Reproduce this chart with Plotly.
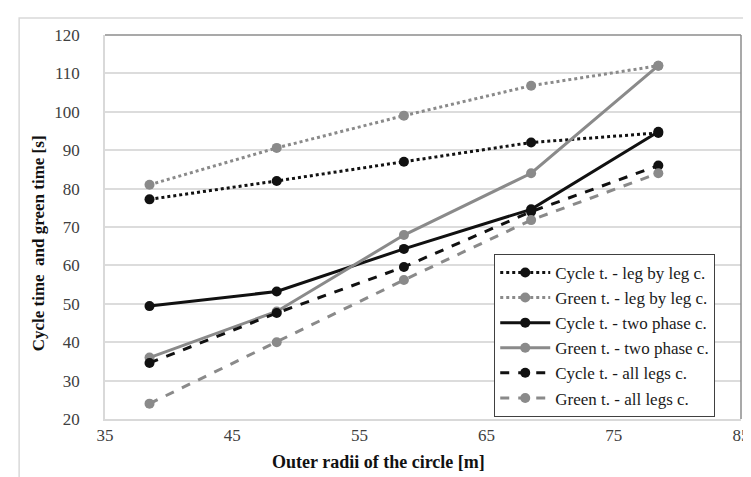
import plotly.graph_objects as go

# outer radii [m]
radii = [38.5, 48.5, 58.5, 68.5, 78.5]

# cycle / green times [s]
cycle_leg_by_leg = [77.2, 82.0, 87.0, 92.0, 94.5]
green_leg_by_leg = [81.0, 90.6, 99.0, 106.8, 112.0]
cycle_two_phase = [49.4, 53.2, 64.3, 74.6, 94.8]
green_two_phase = [36.0, 48.0, 67.9, 84.0, 112.0]
cycle_all_legs = [34.6, 47.6, 59.6, 74.0, 86.0]
green_all_legs = [24.0, 40.0, 56.2, 71.8, 84.0]

BLACK = '#111111'
GREY = '#8a8a8a'
FONT = 'Liberation Serif'

series = [
    ("Cycle t. - leg by leg c.", cycle_leg_by_leg, BLACK, 'dot'),
    ("Green t. - leg by leg c.", green_leg_by_leg, GREY, 'dot'),
    ("Cycle t. - two phase c.", cycle_two_phase, BLACK, 'solid'),
    ("Green t. - two phase c.", green_two_phase, GREY, 'solid'),
    ("Cycle t. - all legs c.", cycle_all_legs, BLACK, 'dash'),
    ("Green t. - all legs c.", green_all_legs, GREY, 'dash'),
]

fig = go.Figure()
for name, vals, color, dash in series:
    fig.add_trace(go.Scatter(
        x=radii, y=vals, name=name,
        mode='lines+markers',
        line=dict(color=color, width=3, dash=dash),
        marker=dict(color=color, size=10)
    ))

fig.update_layout(
    width=751, height=477,
    margin=dict(l=97, r=9, t=27, b=66),
    paper_bgcolor='white',
    plot_bgcolor='white',
    font=dict(family=FONT, size=17, color='#404040'),
    legend=dict(
        x=0.612, y=0.43, xanchor='left', yanchor='top',
        bgcolor='white', bordercolor='#404040', borderwidth=1,
        font=dict(family=FONT, size=17, color='#1a1a1a'),
        tracegroupgap=0, itemwidth=50
    ),
    xaxis=dict(range=[35, 85], dtick=10, tick0=35, showgrid=False,
               showline=True, linecolor='#d9d9d9', linewidth=1.5,
               zeroline=False, ticks='', ticklabelstandoff=0,
               ticklabeloverflow='allow'),
    yaxis=dict(range=[20, 120], dtick=10, showgrid=True, gridcolor='#dcdcdc',
               gridwidth=1.5, showline=True, linecolor='#d9d9d9', linewidth=1.5,
               zeroline=False, ticks='', ticklabelstandoff=20),
    shapes=[
        # darker top and right edges of the plot area
        dict(type='line', xref='paper', yref='paper', x0=0, x1=1, y0=1, y1=1,
             line=dict(color='#8c8c8c', width=1.5)),
        dict(type='line', xref='paper', yref='paper', x0=1, x1=1, y0=0, y1=1,
             line=dict(color='#8c8c8c', width=1.5)),
        # outer chart frame
        dict(type='rect', xref='paper', yref='paper', x0=-0.135, x1=1.011,
             y0=-0.2, y1=1.044, line=dict(color='#d9d9d9', width=1.5),
             layer='below'),
    ],
    annotations=[
        dict(text='<b>Cycle time  and green time [s]</b>', xref='paper', yref='paper',
             x=-0.105, y=0.458, xanchor='center', yanchor='middle',
             textangle=-90, showarrow=False,
             font=dict(family=FONT, size=17, color='#111111')),
        dict(text='<b>Outer radii of the circle [m]</b>', xref='paper', yref='paper',
             x=0.4295, y=-0.113, xanchor='center', yanchor='middle',
             showarrow=False,
             font=dict(family=FONT, size=18, color='#111111')),
    ]
)

fig.write_html("out.html")
